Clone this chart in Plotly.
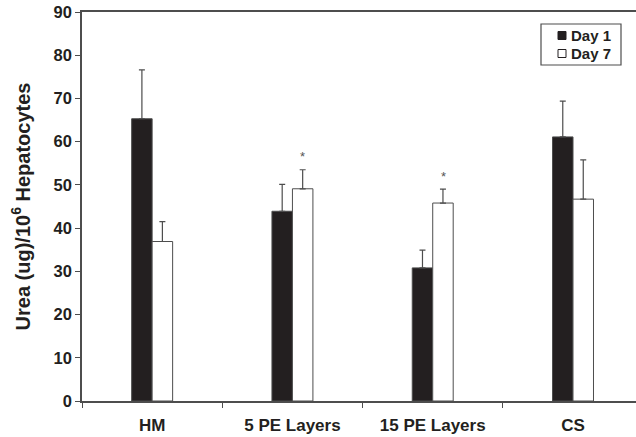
import plotly.graph_objects as go

# Urea production per 10^6 hepatocytes, mean with upper error
categories = ["HM", "5 PE Layers", "15 PE Layers", "CS"]
day1_values = [65.3, 43.9, 30.8, 61.1]
day1_errors = [11.3, 6.2, 4.1, 8.3]
day7_values = [36.9, 49.1, 45.8, 46.7]
day7_errors = [4.6, 4.4, 3.2, 9.1]
# groups whose Day 7 value is marked as significant
significant_day7 = [False, True, True, False]

series_names = ["Day 1", "Day 7"]
y_ticks = [0, 10, 20, 30, 40, 50, 60, 70, 80, 90]

INK = "#231f20"
LINE = "#4d4d4d"
FONT = "Liberation Sans, Arial, Helvetica, sans-serif"

fig = go.Figure()

fig.add_trace(go.Bar(
    name=series_names[0],
    x=categories,
    y=day1_values,
    marker=dict(color=INK, line=dict(color=LINE, width=1)),
    error_y=dict(type="data", symmetric=False, array=day1_errors,
                 arrayminus=[0] * len(day1_errors),
                 color=LINE, thickness=1.2, width=3),
    showlegend=False,
))
fig.add_trace(go.Bar(
    name=series_names[1],
    x=categories,
    y=day7_values,
    marker=dict(color="white", line=dict(color=LINE, width=1)),
    error_y=dict(type="data", symmetric=False, array=day7_errors,
                 arrayminus=[0] * len(day7_errors),
                 color=LINE, thickness=1.2, width=3),
    showlegend=False,
))

# significance asterisks above the Day 7 error bars
for cat, val, err, sig in zip(categories, day7_values, day7_errors, significant_day7):
    if sig:
        fig.add_annotation(
            x=cat, y=val + err, xref="x", yref="y",
            text="*", showarrow=False, xshift=10.3, yshift=13,
            font=dict(family=FONT, size=13, color="#555555"),
        )

# legend box with filled / open squares
box_x0, box_x1, box_y0, box_y1 = 541, 621, 24, 65
W, H, L, T, B = 636, 437, 82, 12, 36
pw, ph = W - L, H - T - B


def px(x):
    return (x - L) / pw


def py(y):
    return (H - B - y) / ph


fig.add_shape(type="rect", xref="paper", yref="paper",
              x0=px(box_x0), x1=px(box_x1), y0=py(box_y1), y1=py(box_y0),
              line=dict(color=LINE, width=1.2), fillcolor="white")
legend_rows = [(series_names[0], INK, 35.5), (series_names[1], "white", 53.5)]
for name, fill, yc in legend_rows:
    fig.add_shape(type="rect", xref="paper", yref="paper",
                  x0=px(558), x1=px(566), y0=py(yc + 4), y1=py(yc - 4),
                  line=dict(color=INK, width=1), fillcolor=fill)
    fig.add_annotation(x=px(569), y=py(yc), xref="paper", yref="paper",
                       text=name, showarrow=False, xanchor="left", yanchor="middle",
                       font=dict(family=FONT, size=15, color=INK, weight="bold"))

fig.update_layout(
    width=W, height=H,
    margin=dict(l=L, r=0, t=T, b=B),
    paper_bgcolor="white", plot_bgcolor="white",
    barmode="group", bargap=0.708, bargroupgap=0,
    font=dict(family=FONT, color=INK),
)
fig.update_xaxes(
    range=[-0.5, 3.449],
    showline=True, linecolor=LINE, linewidth=1.5, mirror=True,
    ticks="outside", tickson="boundaries", ticklen=5, tickcolor=LINE, tickwidth=1.2,
    ticklabelstandoff=8,
    tickfont=dict(family=FONT, size=17, color=INK, weight="bold"),
    showgrid=False, zeroline=False,
)
fig.update_yaxes(
    range=[0, 90], tickvals=y_ticks,
    showline=True, linecolor=LINE, linewidth=1.5,
    ticks="outside", ticklen=5, tickcolor=LINE, tickwidth=1.2,
    tickfont=dict(family=FONT, size=16.5, color=INK, weight="bold"),
    showgrid=False, zeroline=False,
    title=dict(text="Urea (ug)/10<sup>6</sup> Hepatocytes", standoff=18,
               font=dict(family=FONT, size=20, color=INK, weight="bold")),
)

fig.write_html("out.html")
